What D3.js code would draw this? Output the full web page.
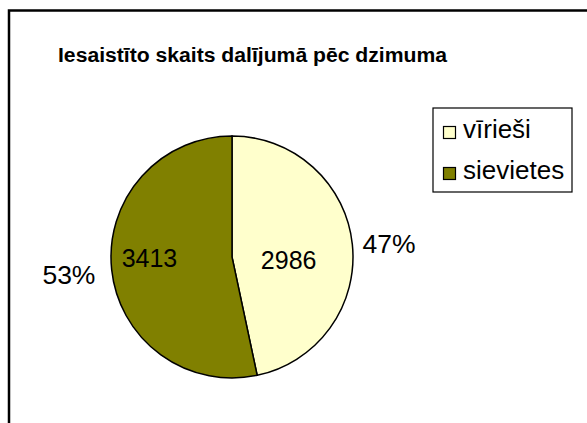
<!DOCTYPE html>
<html>
<head>
<meta charset="utf-8">
<script src="https://cdn.jsdelivr.net/npm/d3@7"></script>
<style>
  body { margin: 0; background: #fff; }
  text { font-family: Arial, "Liberation Sans", sans-serif; fill: #000; }
</style>
</head>
<body>
<div id="chart"></div>
<script>
// Data
const categories = ["vīrieši", "sievietes"];
const values = [2986, 3413];
const colors = ["#FFFFCC", "#808000"];
const title = "Iesaistīto skaits dalījumā pēc dzimuma";

// Chart dimensions
const width = 587;
const height = 423;
const cx = 232, cy = 257, radius = 121;

const svg = d3.select("#chart").append("svg")
    .attr("width", width)
    .attr("height", height);

svg.append("rect")
    .attr("width", width)
    .attr("height", height)
    .attr("fill", "#fff");

// outer frame (runs off the right and bottom edges)
svg.append("rect")
    .attr("x", 9)
    .attr("y", 10.5)
    .attr("width", width + 20)
    .attr("height", height + 20)
    .attr("fill", "none")
    .attr("stroke", "#000")
    .attr("stroke-width", 2.5);

// title
svg.append("text")
    .attr("x", 58)
    .attr("y", 62)
    .attr("textLength", 389)
    .attr("lengthAdjust", "spacingAndGlyphs")
    .style("font-size", "20px")
    .style("font-weight", "bold")
    .text(title);

const total = d3.sum(values);
const pie = d3.pie().sort(null).value(d => d)(values);
const arc = d3.arc().innerRadius(0).outerRadius(radius);

const g = svg.append("g").attr("transform", `translate(${cx},${cy})`);

g.selectAll("path")
    .data(pie)
    .enter().append("path")
    .attr("d", arc)
    .attr("fill", (d, i) => colors[i])
    .attr("stroke", "#000")
    .attr("stroke-width", 1.5);

// value labels inside, percent labels outside
const innerR = [57, 83];
const innerY = [3, 0.5];
const outerR = [158, 164];
const outerDy = [3, 0];
const pos = (d, r) => {
    const a = (d.startAngle + d.endAngle) / 2;
    return [Math.sin(a) * r, -Math.cos(a) * r];
};

g.selectAll(".val")
    .data(pie)
    .enter().append("text")
    .attr("class", "val")
    .attr("x", (d, i) => pos(d, innerR[i])[0])
    .attr("y", (d, i) => innerY[i])
    .attr("dy", "0.36em")
    .attr("text-anchor", "middle")
    .style("font-size", "25px")
    .text(d => d.data);

g.selectAll(".pct")
    .data(pie)
    .enter().append("text")
    .attr("class", "pct")
    .attr("x", (d, i) => pos(d, outerR[i])[0])
    .attr("y", (d, i) => pos(d, outerR[i])[1] + outerDy[i])
    .attr("dy", "0.36em")
    .attr("text-anchor", "middle")
    .style("font-size", "26.5px")
    .text(d => Math.round(d.data / total * 100) + "%");

// legend
const legend = svg.append("g").attr("transform", "translate(433,108)");
legend.append("rect")
    .attr("width", 139)
    .attr("height", 84)
    .attr("fill", "#fff")
    .attr("stroke", "#000")
    .attr("stroke-width", 1.2);

const item = legend.selectAll(".item")
    .data(categories)
    .enter().append("g")
    .attr("transform", (d, i) => `translate(0,${i * 41})`);

item.append("rect")
    .attr("x", 10.5)
    .attr("y", 18.5)
    .attr("width", 12)
    .attr("height", 12)
    .attr("fill", (d, i) => colors[i])
    .attr("stroke", "#000")
    .attr("stroke-width", 1.2);

item.append("text")
    .attr("x", 30)
    .attr("y", 30)
    .style("font-size", "26px")
    .text(d => d);
</script>
</body>
</html>
